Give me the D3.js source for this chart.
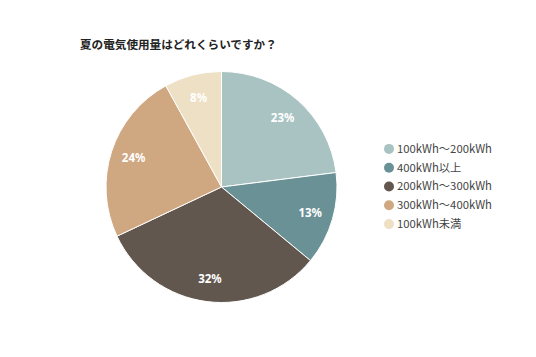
<!DOCTYPE html>
<html><head><meta charset="utf-8">
<script src="https://cdn.jsdelivr.net/npm/d3@7"></script>
<style>body{margin:0;background:#fff;}</style>
</head><body>
<svg id="chart" width="536" height="357"></svg>
<script>
const title = "夏の電気使用量はどれくらいですか？";
const categories = ["100kWh～200kWh","400kWh以上","200kWh～300kWh","300kWh～400kWh","100kWh未満"];
const values = [23,13,32,24,8];
const colors = ["#a9c3c3","#6a9196","#62574e","#cfa781","#ede0c5"];

const svg = d3.select("#chart");
svg.append("text").attr("x",80).attr("y",49)
  .attr("font-family","'Noto Sans CJK JP'").attr("font-size",11.6).attr("font-weight","bold")
  .attr("fill","#222").text(title);

const cx=221.5, cy=187, r=115.5;
const g = svg.append("g").attr("transform",`translate(${cx},${cy})`);
const pie = d3.pie().sort(null).value(d=>d)(values);
const arc = d3.arc().innerRadius(0).outerRadius(r);
const labelArc = d3.arc().innerRadius(r*0.8).outerRadius(r*0.8);
g.selectAll("path").data(pie).join("path")
  .attr("d",arc).attr("fill",(d,i)=>colors[i]).attr("stroke","#fff").attr("stroke-width",1);
g.selectAll("text").data(pie).join("text")
  .attr("transform",d=>`translate(${labelArc.centroid(d)})`)
  .attr("text-anchor","middle").attr("dy","0.35em")
  .attr("font-family","'Noto Sans', sans-serif").attr("font-size",11.5).attr("font-weight","bold")
  .attr("fill","#fff").text(d=>d.data+"%");

const lg = svg.append("g");
const ly = d3.scaleBand().domain(categories).range([139.5,233.5]);
categories.forEach((c,i)=>{
  const y = ly(c)+ly.bandwidth()/2;
  lg.append("circle").attr("cx",389).attr("cy",y).attr("r",5).attr("fill",colors[i]);
  lg.append("text").attr("x",397).attr("y",y).attr("dy","0.35em")
    .attr("font-family","'Noto Sans CJK JP'").attr("font-size",11.3).attr("fill","#444").text(c);
});
</script>
</body></html>
